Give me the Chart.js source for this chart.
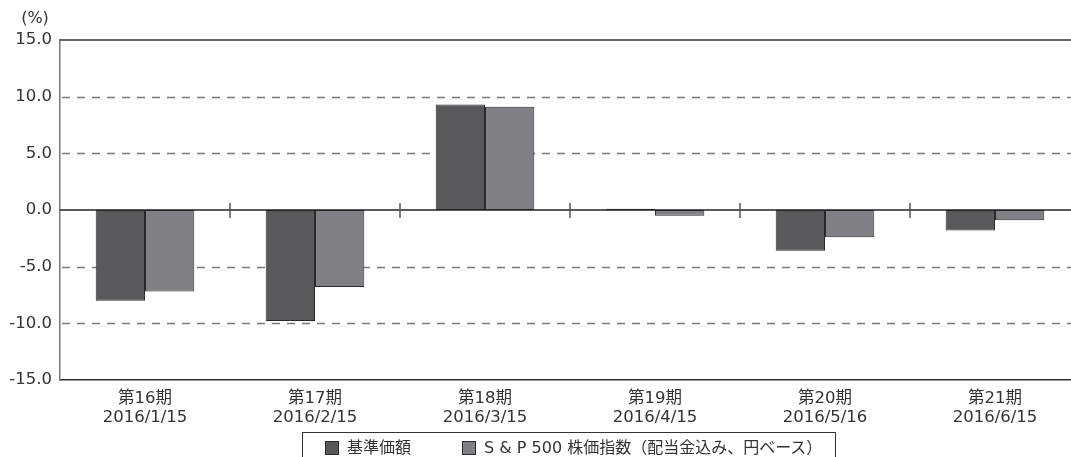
<!DOCTYPE html>
<html lang="ja">
<head>
<meta charset="utf-8">
<title>騰落率</title>
<script src="https://cdn.jsdelivr.net/npm/chart.js@4"></script>
<style>
    body { margin: 0; background: #fff; }
    #wrap { position: relative; width: 1071px; height: 457px; overflow: hidden; }
    #legend {
        position: absolute; left: 302px; top: 432px; width: 534px; height: 32px;
        border: 1px solid #333; box-sizing: border-box;
        font: 16px 'DejaVu Sans', 'Noto Sans CJK JP', sans-serif; color: #333;
    }
    .item { position: absolute; top: 5px; line-height: 20px; white-space: nowrap; }
    .sw { display: inline-block; width: 14px; height: 14px; border: 1px solid #2a2a2a; vertical-align: -2px; margin-right: 8px; box-sizing: border-box; }
</style>
</head>
<body>
<div id="wrap">
    <canvas id="chart" width="1140" height="457"></canvas>
    <div id="legend">
        <span class="item" style="left:22px"><span class="sw" style="background:#58595b"></span>基準価額</span>
        <span class="item" style="left:159px"><span class="sw" style="background:#808184"></span>S &amp; P 500 株価指数（配当金込み、円ベース）</span>
    </div>
</div>
<script>
// Dữ liệu biểu đồ
const periods = ['第16期', '第17期', '第18期', '第19期', '第20期', '第21期'];
const dates = ['2016/1/15', '2016/2/15', '2016/3/15', '2016/4/15', '2016/5/16', '2016/6/15'];
const fundReturns = [-8.0, -9.8, 9.3, 0.1, -3.6, -1.8];
const indexReturns = [-7.2, -6.8, 9.1, -0.5, -2.4, -0.9];
const yTicks = [15, 10, 5, 0, -5, -10, -15];
const dashedLevels = [10, 5, -5, -10];

const FONT = "'DejaVu Sans', 'Noto Sans CJK JP', sans-serif";

// Vẽ lưới, đường 0 và vạch phân cách
const gridPlugin = {
    id: 'customGrid',
    beforeDatasetsDraw(chart) {
        const { ctx, chartArea, scales: { y } } = chart;
        ctx.save();
        ctx.strokeStyle = '#7a7a7a';
        ctx.lineWidth = 1.5;
        ctx.setLineDash([8, 7]);
        dashedLevels.forEach(v => {
            const py = Math.round(y.getPixelForValue(v)) + 0.5;
            ctx.beginPath();
            ctx.moveTo(chartArea.left + 2, py);
            ctx.lineTo(chartArea.right, py);
            ctx.stroke();
        });
        ctx.restore();
    },
    afterDatasetsDraw(chart) {
        const { ctx, chartArea, scales: { x, y } } = chart;
        ctx.save();
        // top border
        ctx.strokeStyle = '#333';
        ctx.lineWidth = 1.5;
        const top = y.getPixelForValue(15);
        ctx.beginPath();
        ctx.moveTo(chartArea.left, top);
        ctx.lineTo(chartArea.right, top);
        ctx.stroke();
        // zero line
        const zero = y.getPixelForValue(0);
        ctx.strokeStyle = '#222';
        ctx.beginPath();
        ctx.moveTo(chartArea.left, zero);
        ctx.lineTo(chartArea.right, zero);
        ctx.stroke();
        // category separators
        ctx.strokeStyle = '#555';
        for (let i = 0; i < periods.length - 1; i++) {
            const px = (x.getPixelForValue(i) + x.getPixelForValue(i + 1)) / 2;
            ctx.beginPath();
            ctx.moveTo(px, zero - 7);
            ctx.lineTo(px, zero + 8);
            ctx.stroke();
        }
        // unit label
        ctx.fillStyle = '#333';
        ctx.font = '16px ' + FONT;
        ctx.textAlign = 'center';
        ctx.textBaseline = 'middle';
        ctx.fillText('(%)', 35, 19);
        ctx.restore();
    }
};

const ctx = document.getElementById('chart').getContext('2d');
new Chart(ctx, {
    type: 'bar',
    data: {
        labels: periods.map((p, i) => [p, dates[i]]),
        datasets: [{
            label: '基準価額',
            data: fundReturns,
            backgroundColor: '#58595b',
            borderColor: '#2a2a2a',
            borderWidth: 1,
            borderSkipped: false
        }, {
            label: 'S & P 500 株価指数（配当金込み、円ベース）',
            data: indexReturns,
            backgroundColor: '#808184',
            borderColor: '#2a2a2a',
            borderWidth: 1,
            borderSkipped: false
        }]
    },
    options: {
        responsive: false,
        animation: false,
        categoryPercentage: 0.58,
        barPercentage: 1.0,
        layout: { padding: { top: 40, right: 60, left: 0, bottom: 32 } },
        plugins: {
            legend: { display: false },
            tooltip: { enabled: false }
        },
        scales: {
            x: {
                grid: { display: false, drawTicks: false },
                border: { display: true, color: '#333', width: 1.5 },
                ticks: {
                    color: '#333',
                    padding: 9,
                    maxRotation: 0,
                    font: { family: FONT, size: 16.5, lineHeight: 1.17 }
                },
                afterFit(scale) { scale.height = 45; }
            },
            y: {
                min: -15,
                max: 15,
                grid: { display: false, drawTicks: false },
                border: { display: true, color: '#777', width: 1.5 },
                afterBuildTicks(scale) {
                    scale.ticks = yTicks.map(v => ({ value: v }));
                },
                ticks: {
                    color: '#333',
                    padding: 8,
                    font: { family: FONT, size: 16.5 },
                    callback: v => v.toFixed(1)
                },
                afterFit(scale) { scale.width = 60; }
            }
        }
    },
    plugins: [gridPlugin]
});
</script>
</body>
</html>
